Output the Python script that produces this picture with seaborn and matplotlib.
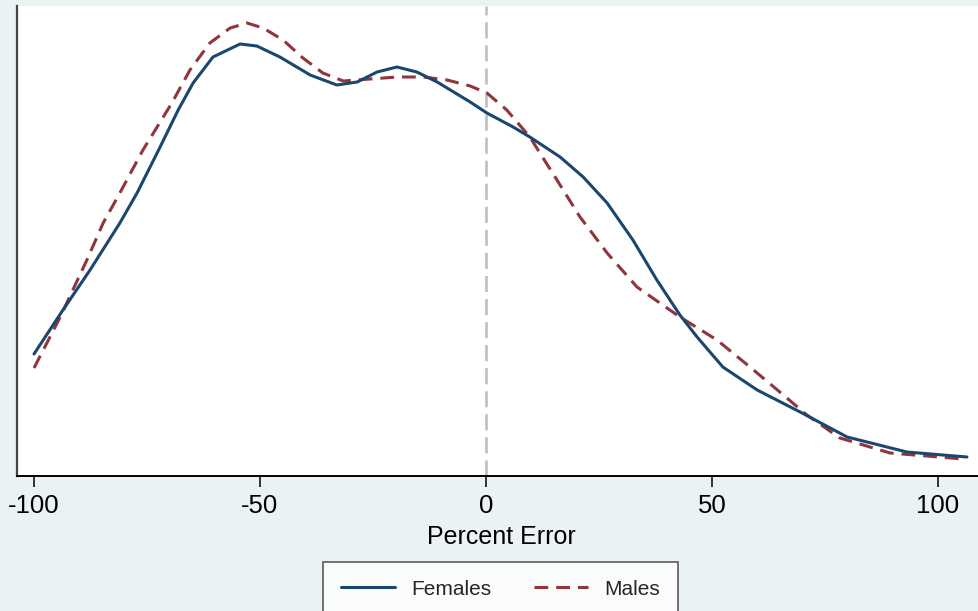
import numpy as np
import pandas as pd
import matplotlib
matplotlib.use("Agg")
import matplotlib.pyplot as plt
import seaborn as sns

# Percent error grid and kernel density heights (arbitrary units)
fem_x = [-100.0, -93.6, -87.6, -81.0, -77.2, -72.1, -68.1, -64.8, -60.4, -54.4, -50.7,
         -45.6, -38.9, -33.0, -28.5, -24.1, -19.7, -15.3, -10.8, -3.5, 0.2, 6.0, 9.7,
         16.4, 21.5, 26.8, 32.5, 37.8, 42.9, 46.7, 52.4, 60.0, 69.5, 79.9, 93.1, 106.4]
fem_y = [122, 166, 206, 253, 283, 329, 366, 393, 419, 432, 430,
         419, 401, 391, 394, 404, 409, 404, 394, 374, 363, 349, 339,
         319, 299, 273, 236, 196, 161, 139, 109, 86, 64, 39, 24, 19]

male_x = [-100.0, -94.2, -88.3, -84.7, -81.0, -75.9, -69.5, -65.5, -61.1, -56.6, -52.9,
          -49.3, -44.9, -40.5, -36.1, -31.6, -25.7, -19.7, -13.9, -8.6, -3.5, 0.2, 4.6,
          9.7, 15.7, 20.8, 26.8, 33.4, 42.9, 51.1, 58.4, 65.0, 71.0, 78.3, 89.4, 105.5]
male_y = [108, 159, 216, 253, 283, 326, 373, 406, 433, 448, 453,
          448, 436, 418, 403, 395, 397, 399, 399, 396, 390, 383, 366,
          339, 296, 259, 223, 189, 159, 136, 109, 84, 61, 38, 23, 17]

x_ticks = [-100, -50, 0, 50, 100]
x_label = "Percent Error"
series_names = ["Females", "Males"]

BG = "#eaf2f3"
NAVY = "#1a476f"
MAROON = "#90353b"

sns.set_theme(style="white")
plt.rcParams["font.family"] = ["Liberation Sans", "DejaVu Sans"]

W, H = 979, 611
fig = plt.figure(figsize=(W / 100, H / 100), dpi=100, facecolor=BG)
left_px, right_px, top_px, bottom_px = 17, 985, 6, 476
ax = fig.add_axes([left_px / W, 1 - bottom_px / H, (right_px - left_px) / W, (bottom_px - top_px) / H])
ax.set_facecolor("white")

def to_x(px):
    return (px - 486) / 4.52

df_f = pd.DataFrame({"x": fem_x, "y": fem_y})
df_m = pd.DataFrame({"x": male_x, "y": male_y})

ax.axvline(0, color="#c2c2c2", lw=2.0, dashes=(5.8, 2.5), zorder=1)
sns.lineplot(data=df_f, x="x", y="y", ax=ax, color=NAVY, lw=2.2, label=series_names[0],
             legend=False, zorder=3)
sns.lineplot(data=df_m, x="x", y="y", ax=ax, color=MAROON, lw=2.2, label=series_names[1],
             legend=False, zorder=2)
ax.lines[-1].set_dashes((4.5, 2.6))
for ln in ax.lines[1:]:
    ln.set_solid_joinstyle("round")
    ln.set_dash_joinstyle("round")

ax.set_xlim(to_x(left_px), to_x(right_px))
ax.set_ylim(0, bottom_px - top_px)
ax.set_xticks(x_ticks)
ax.set_xticklabels([str(t) for t in x_ticks], fontsize=18.5, color="black")
ax.set_yticks([])
ax.set_ylabel("")
ax.set_xlabel(x_label, fontsize=18, color="black", labelpad=5)
ax.tick_params(axis="x", direction="out", length=8, width=1.1, color="black", pad=5,
               bottom=True)

for s in ["top", "right"]:
    ax.spines[s].set_visible(False)
ax.spines["left"].set_color("#444444")
ax.spines["left"].set_linewidth(1.6)
ax.spines["bottom"].set_color("black")
ax.spines["bottom"].set_linewidth(1.4)

handles = ax.lines[1:3]
leg = fig.legend(handles, series_names, loc="upper center",
                 bbox_to_anchor=(500.5 / W, 1 - 562 / H), ncol=2, frameon=True,
                 fancybox=False, edgecolor="#333333", facecolor="white", fontsize=15,
                 handlelength=2.6, handletextpad=0.8, columnspacing=2.0, borderpad=0.85,
                 borderaxespad=0)
leg.get_frame().set_linewidth(1.2)

fig.savefig("out.png", dpi=100, facecolor=BG)
